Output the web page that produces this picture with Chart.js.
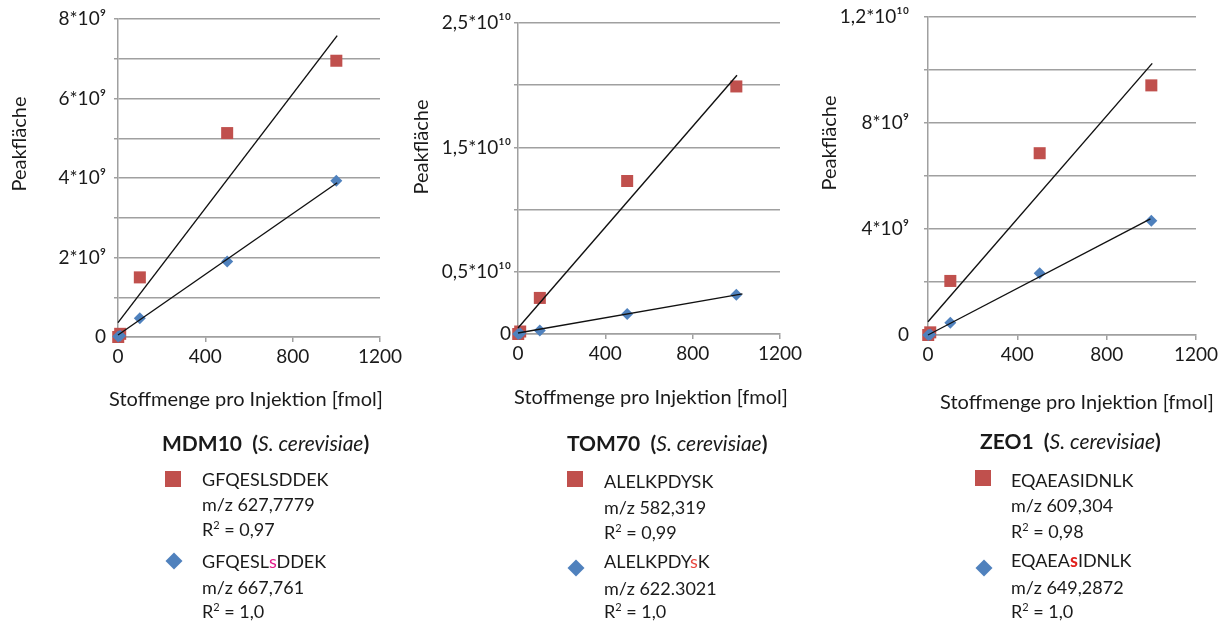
<!DOCTYPE html>
<html lang="de">
<head>
<meta charset="utf-8">
<title>Kalibrierung Peakfläche</title>
<script src="https://cdn.jsdelivr.net/npm/chart.js@4.4.1/dist/chart.umd.min.js"></script>
<style>
  html, body { margin: 0; padding: 0; background: #ffffff; }
  #stage { position: relative; width: 1223px; height: 623px; overflow: hidden;
           font-family: Lato, "Open Sans", sans-serif; color: #1a1a1a; }
  #stage canvas { position: absolute; left: 0; top: 0; }
  .legend { position: absolute; font-size: 18px; line-height: 1; }
  .legend .head { position: absolute; white-space: nowrap; font-weight: bold; font-size: 21px; }
  .legend .head i { font-weight: normal; }
  .legend .row { position: absolute; white-space: nowrap; transform: translateY(-50%); }
  .legend sup { font-size: 11px; vertical-align: 7px; line-height: 0; }
  .chip-sq { position: absolute; width: 16px; height: 16px; background: #c0504d; transform: translate(-50%, -50%); }
  .chip-di { position: absolute; width: 12px; height: 12px; background: #4f81bd; transform: translate(-50%, -50%) rotate(45deg); }
  .mark-1 { color: #e5198a; }
  .mark-2 { color: #e8473f; }
  .mark-3 { color: #e0201c; font-weight: bold; }
</style>
</head>
<body>
<div id="stage">
  <canvas id="cMdm10" width="1223" height="623"></canvas>
  <canvas id="cTom70" width="1223" height="623"></canvas>
  <canvas id="cZeo1" width="1223" height="623"></canvas>

  <div class="legend">
    <div class="head" style="left:162px; top:432px;">MDM10&nbsp; (<i>S. cerevisiae</i>)</div>
    <div class="chip-sq" style="left:173px; top:479px;"></div>
    <div class="row" style="left:202px; top:479px;">GFQESLSDDEK</div>
    <div class="row" style="left:202px; top:504px;">m/z 627,7779</div>
    <div class="row" style="left:202px; top:529px;">R<sup>2</sup> = 0,97</div>
    <div class="chip-di" style="left:174px; top:561px;"></div>
    <div class="row" style="left:202px; top:561px;">GFQESL<span class="mark-1">s</span>DDEK</div>
    <div class="row" style="left:202px; top:587px;">m/z 667,761</div>
    <div class="row" style="left:202px; top:611px;">R<sup>2</sup> = 1,0</div>
  </div>

  <div class="legend">
    <div class="head" style="left:567px; top:432px;">TOM70&nbsp; (<i>S. cerevisiae</i>)</div>
    <div class="chip-sq" style="left:575px; top:479px;"></div>
    <div class="row" style="left:604px; top:481px;">ALELKPDYSK</div>
    <div class="row" style="left:604px; top:507px;">m/z 582,319</div>
    <div class="row" style="left:604px; top:532px;">R<sup>2</sup> = 0,99</div>
    <div class="chip-di" style="left:576px; top:568px;"></div>
    <div class="row" style="left:604px; top:561px;">ALELKPDY<span class="mark-2">s</span>K</div>
    <div class="row" style="left:604px; top:588px;">m/z 622.3021</div>
    <div class="row" style="left:604px; top:611px;">R<sup>2</sup> = 1,0</div>
  </div>

  <div class="legend">
    <div class="head" style="left:980px; top:430px;">ZEO1&nbsp; (<i>S. cerevisiae</i>)</div>
    <div class="chip-sq" style="left:983px; top:478px;"></div>
    <div class="row" style="left:1011px; top:480px;">EQAEASIDNLK</div>
    <div class="row" style="left:1011px; top:505px;">m/z 609,304</div>
    <div class="row" style="left:1011px; top:531px;">R<sup>2</sup> = 0,98</div>
    <div class="chip-di" style="left:984px; top:568px;"></div>
    <div class="row" style="left:1011px; top:560px;">EQAEA<span class="mark-3">s</span>IDNLK</div>
    <div class="row" style="left:1011px; top:587px;">m/z 649,2872</div>
    <div class="row" style="left:1011px; top:611px;">R<sup>2</sup> = 1,0</div>
  </div>
</div>

<script>
// Injected amount per run (fmol)
const amounts = [1, 10, 100, 500, 1000];
const xTickLabels = ['0', '400', '800', '1200'];

// MDM10 peak areas
const mdm10Native = [0, 0.08e9, 1.5e9, 5.13e9, 6.95e9];
const mdm10Phospho = [0.01e9, 0.03e9, 0.47e9, 1.9e9, 3.93e9];
const mdm10NativeFit = [[0, 0.36e9], [1004, 7.58e9]];
const mdm10PhosphoFit = [[0, 0.05e9], [1004, 3.88e9]];
const mdm10YLabels = ['0', '', '2*10⁹', '', '4*10⁹', '', '6*10⁹', '', '8*10⁹'];

// TOM70 peak areas
const tom70Native = [0, 0.02e10, 0.29e10, 1.23e10, 1.99e10];
const tom70Phospho = [0, 0.005e10, 0.029e10, 0.16e10, 0.315e10];
const tom70NativeFit = [[0, 0.048e10], [1003, 2.08e10]];
const tom70PhosphoFit = [[0, 0.008e10], [1028, 0.323e10]];
const tom70YLabels = ['0', '0,5*10¹⁰', '', '1,5*10¹⁰', '', '2,5*10¹⁰'];

// ZEO1 peak areas
const zeo1Native = [0, 0.1e9, 2.04e9, 6.86e9, 9.42e9];
const zeo1Phospho = [0, 0.02e9, 0.46e9, 2.33e9, 4.31e9];
const zeo1NativeFit = [[0, 0.5e9], [1004, 10.25e9]];
const zeo1PhosphoFit = [[0, 0.0], [996, 4.38e9]];
const zeo1YLabels = ['0', '', '4*10⁹', '', '8*10⁹', '', '1,2*10¹⁰'];

const RED = '#c0504d';
const BLUE = '#4f81bd';
const GRID = '#a0a0a0';
const TEXT = '#1a1a1a';
const FONT = 'Lato, "Open Sans", sans-serif';

Chart.defaults.font.family = FONT;
Chart.defaults.color = TEXT;

// Draws the rotated y caption and the x caption at fixed spots
const axisCaptions = {
  id: 'axisCaptions',
  afterDraw(chart, args, opts) {
    const ctx = chart.ctx;
    ctx.save();
    ctx.fillStyle = TEXT;
    ctx.font = opts.font;
    ctx.textAlign = 'center';
    ctx.textBaseline = 'middle';
    ctx.save();
    ctx.translate(opts.y.x, opts.y.y);
    ctx.rotate(-Math.PI / 2);
    ctx.fillText(opts.y.text, 0, 0);
    ctx.restore();
    ctx.fillText(opts.x.text, opts.x.x, opts.x.y);
    ctx.restore();
  }
};

const pts = (xs, ys) => xs.map((x, i) => ({ x, y: ys[i] }));
const fit = (seg) => seg.map(([x, y]) => ({ x, y }));

function makeChart(id, cfg) {
  const W = 1223, H = 623, X_AXIS_H = 30;
  const area = cfg.area;
  return new Chart(document.getElementById(id), {
    type: 'scatter',
    data: {
      datasets: [
        { label: 'fit native', type: 'line', data: fit(cfg.nativeFit), borderColor: '#111', borderWidth: 1.4,
          pointRadius: 0, fill: false, clip: false, order: 1 },
        { label: 'fit phospho', type: 'line', data: fit(cfg.phosphoFit), borderColor: '#111', borderWidth: 1.4,
          pointRadius: 0, fill: false, clip: false, order: 1 },
        { label: 'native', data: pts(amounts, cfg.native), pointStyle: 'rect', pointRadius: 8.5,
          backgroundColor: RED, borderColor: RED, borderWidth: 0, clip: false, order: 3 },
        { label: 'phospho', data: pts(amounts, cfg.phospho), pointStyle: 'rectRot', pointRadius: 6,
          backgroundColor: BLUE, borderColor: BLUE, borderWidth: 0, clip: false, order: 2 }
      ]
    },
    options: {
      responsive: false,
      animation: false,
      devicePixelRatio: 1,
      layout: { padding: { left: 0, top: area.top, right: W - area.right, bottom: H - area.bottom - X_AXIS_H } },
      plugins: {
        legend: { display: false },
        tooltip: { enabled: false },
        axisCaptions: {
          font: '20px ' + FONT,
          y: { text: 'Peakfläche', x: cfg.yCaption[0], y: cfg.yCaption[1] },
          x: { text: 'Stoffmenge pro Injektion [fmol]', x: cfg.xCaption[0], y: cfg.xCaption[1] }
        }
      },
      scales: {
        x: {
          type: 'linear', min: 0, max: 1200,
          ticks: { stepSize: 400, padding: 3, font: { size: 19 }, color: TEXT,
                   callback: (v, i) => xTickLabels[i] },
          grid: { drawOnChartArea: false, drawTicks: true, tickLength: 5, color: GRID, lineWidth: 1.5 },
          border: { display: true, color: GRID, width: 1.5 },
          afterFit: (s) => { s.height = X_AXIS_H; s.paddingLeft = 0; s.paddingRight = 0; }
        },
        y: {
          type: 'linear', min: 0, max: cfg.yMax,
          ticks: { stepSize: cfg.yStep, padding: cfg.yPad, font: { size: 19 }, color: TEXT,
                   callback: (v, i) => cfg.yLabels[i] },
          grid: { drawTicks: true, tickLength: 4, color: GRID, lineWidth: 1.5 },
          border: { display: true, color: GRID, width: 1.5 },
          afterFit: (s) => { s.width = area.left; s.paddingTop = 0; s.paddingBottom = 0; }
        }
      }
    },
    plugins: [axisCaptions]
  });
}

makeChart('cMdm10', {
  area: { left: 118, top: 19, right: 380, bottom: 337 },
  native: mdm10Native, phospho: mdm10Phospho,
  nativeFit: mdm10NativeFit, phosphoFit: mdm10PhosphoFit,
  yMax: 8e9, yStep: 1e9, yLabels: mdm10YLabels, yPad: 8,
  yCaption: [20, 144], xCaption: [246, 400]
});

makeChart('cTom70', {
  area: { left: 518, top: 23, right: 780, bottom: 334 },
  native: tom70Native, phospho: tom70Phospho,
  nativeFit: tom70NativeFit, phosphoFit: tom70PhosphoFit,
  yMax: 2.5e10, yStep: 0.5e10, yLabels: tom70YLabels, yPad: 3,
  yCaption: [422, 147], xCaption: [651, 398]
});

makeChart('cZeo1', {
  area: { left: 928, top: 17, right: 1196, bottom: 335 },
  native: zeo1Native, phospho: zeo1Phospho,
  nativeFit: zeo1NativeFit, phosphoFit: zeo1PhosphoFit,
  yMax: 1.2e10, yStep: 2e9, yLabels: zeo1YLabels, yPad: 15,
  yCaption: [830, 143], xCaption: [1077, 403]
});
</script>
</body>
</html>
